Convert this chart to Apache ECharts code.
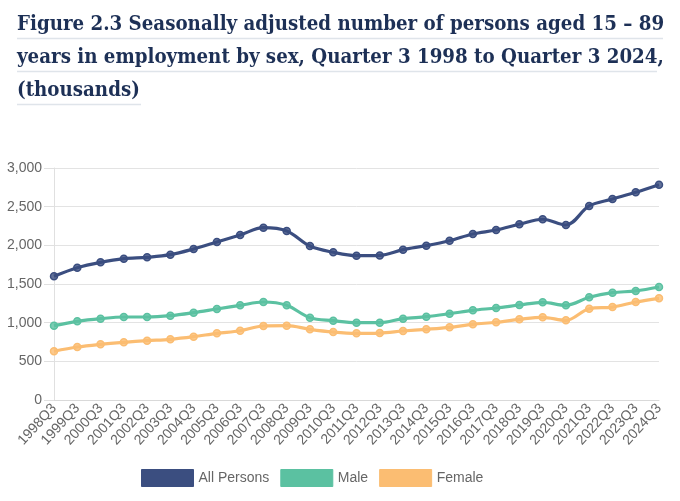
<!DOCTYPE html>
<html>
<head>
<meta charset="utf-8">
<script src="https://cdn.jsdelivr.net/npm/echarts@6/dist/echarts.min.js"></script>
<style>
  html, body { margin: 0; padding: 0; background: #fff; }
  #main { width: 680px; height: 501px; }
</style>
</head>
<body>
<div id="main"></div>
<script>
// quarters on the x axis
const quarters = ['1998Q3','1999Q3','2000Q3','2001Q3','2002Q3','2003Q3','2004Q3','2005Q3','2006Q3',
  '2007Q3','2008Q3','2009Q3','2010Q3','2011Q3','2012Q3','2013Q3','2014Q3','2015Q3','2016Q3',
  '2017Q3','2018Q3','2019Q3','2020Q3','2021Q3','2022Q3','2023Q3','2024Q3'];

// thousands of persons in employment
const allPersons = [1600,1711,1780,1827,1845,1879,1953,2043,2134,2228,2185,1991,1910,1866,1870,
  1944,1996,2060,2147,2198,2272,2337,2263,2509,2599,2686,2784];
const male = [961,1017,1052,1073,1073,1090,1129,1177,1224,1267,1224,1064,1026,1000,1000,
  1052,1077,1116,1160,1190,1228,1263,1224,1328,1388,1410,1461];
const female = [630,685,720,746,767,785,819,862,896,957,961,914,879,862,866,
  892,914,940,979,1005,1043,1069,1030,1180,1202,1267,1315];

const yTicks = [0, 500, 1000, 1500, 2000, 2500, 3000];

const titleLines = [
  'Figure 2.3 Seasonally adjusted number of persons aged 15 \u2013 89',
  'years in employment by sex, Quarter 3 1998 to Quarter 3 2024,',
  '(thousands)'
];

const seriesDefs = [
  { name: 'All Persons', data: allPersons, color: '#3b4e80', fill: 'rgba(59,78,128,0.8)' },
  { name: 'Male', data: male, color: '#5bc1a1', fill: 'rgba(91,193,161,0.8)' },
  { name: 'Female', data: female, color: '#fbbd72', fill: 'rgba(251,189,114,0.8)' }
];

const titleFont = '"DejaVu Serif Condensed", "DejaVu Serif", serif';
const chart = echarts.init(document.getElementById('main'));

// underline each title line like the original page heading
const lineEnds = [663, 657, 141];
const rules = titleLines.map((t, i) => ({
  type: 'line',
  shape: { x1: 17, y1: 38.5 + i * 33, x2: lineEnds[i], y2: 38.5 + i * 33 },
  style: { stroke: '#dfe4ea', lineWidth: 1.5 },
  silent: true
}));

const option = {
  animation: false,
  title: {
    text: titleLines.join('\n'),
    left: 12,
    top: 3,
    textStyle: {
      fontFamily: titleFont,
      fontSize: 20.3,
      fontWeight: 'bold',
      color: '#1d3056',
      lineHeight: 33
    }
  },
  graphic: rules,
  legend: {
    left: 136,
    top: 464,
    icon: 'rect',
    itemWidth: 52,
    itemHeight: 17,
    itemGap: 11,
    textStyle: { fontFamily: 'Liberation Sans, Arial', fontSize: 14, color: '#666' },
    data: seriesDefs.map(s => ({
      name: s.name,
      itemStyle: { color: s.color, borderColor: s.color, borderWidth: 1 }
    }))
  },
  grid: { left: 54, right: 21, top: 168, bottom: 101 },
  xAxis: {
    type: 'category',
    data: quarters,
    boundaryGap: false,
    axisLine: { lineStyle: { color: '#d9d9d9' } },
    axisTick: { show: false },
    axisLabel: {
      interval: 0,
      rotate: 48,
      margin: 6,
      color: '#666',
      fontSize: 14,
      fontFamily: 'Liberation Sans, Arial'
    },
    splitLine: { show: false }
  },
  yAxis: {
    type: 'value',
    min: yTicks[0],
    max: yTicks[yTicks.length - 1],
    interval: yTicks[1] - yTicks[0],
    axisLine: { show: true, lineStyle: { color: '#e0e0e0' } },
    axisTick: { show: true, length: 10, lineStyle: { color: '#e0e0e0' } },
    axisLabel: {
      margin: 12,
      color: '#666',
      fontSize: 14,
      fontFamily: 'Liberation Sans, Arial',
      formatter: v => v.toLocaleString('en-US')
    },
    splitLine: { lineStyle: { color: '#e3e3e3' } }
  },
  series: seriesDefs.map(s => ({
    name: s.name,
    type: 'line',
    data: s.data,
    smooth: 0.35,
    symbol: 'circle',
    symbolSize: 7,
    lineStyle: { color: s.color, width: 3.2 },
    itemStyle: { color: s.fill, borderColor: s.color, borderWidth: 1.5 }
  }))
};

chart.setOption(option);
</script>
</body>
</html>
